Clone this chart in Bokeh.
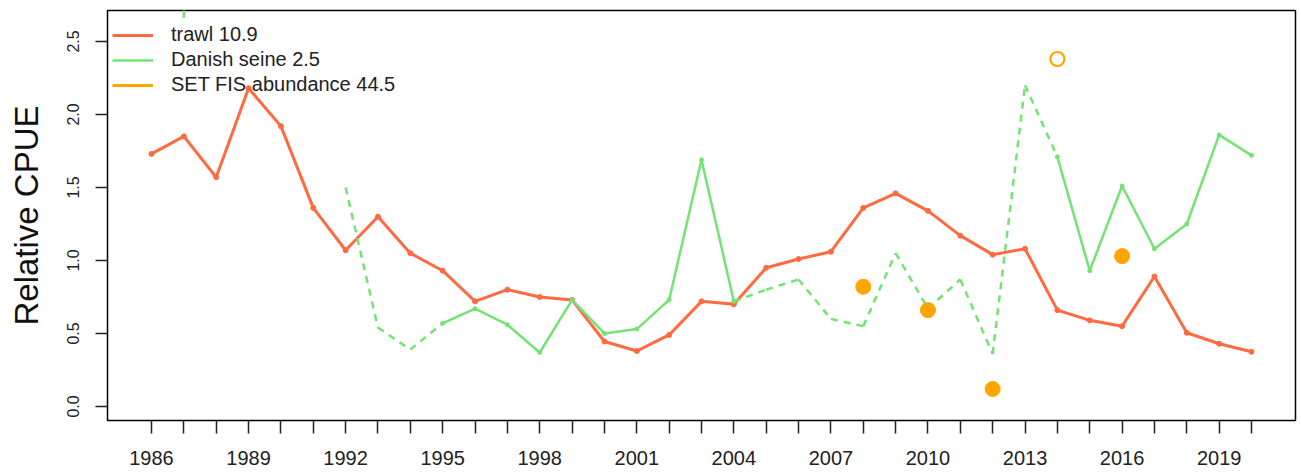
import math
from bokeh.plotting import figure
from bokeh.models import (FixedTicker, Range1d, Legend, LegendItem)
from bokeh.embed import file_html
from bokeh.resources import INLINE

# ---------------- data ----------------
trawl_years = list(range(1986, 2021))
trawl_cpue = [1.73, 1.85, 1.57, 2.18, 1.92, 1.36, 1.07, 1.30, 1.05, 0.93,
              0.72, 0.80, 0.75, 0.73, 0.445, 0.38, 0.49, 0.72, 0.70, 0.95,
              1.01, 1.06, 1.36, 1.46, 1.34, 1.17, 1.04, 1.08, 0.66, 0.59,
              0.55, 0.89, 0.505, 0.43, 0.375]

seine_years = list(range(1992, 2021))
seine_cpue = [1.50, 0.54, 0.39, 0.57, 0.67, 0.56, 0.37, 0.73, 0.50, 0.53,
              0.73, 1.69, 0.72, 0.80, 0.87, 0.60, 0.55, 1.05, 0.67, 0.87,
              0.36, 2.20, 1.71, 0.93, 1.51, 1.08, 1.25, 1.86, 1.72]
seine_observed = [False, False, False, True, True, True, True, True, True, True,
                  True, True, True, False, False, False, False, False, False, False,
                  False, False, True, True, True, True, True, True, True]
# short off-scale fragment of the Danish seine series near 1987
seine_1987_x = [1987, 1987]
seine_1987_y = [2.75, 2.66]

fis_years = [2008, 2010, 2012, 2014, 2016]
fis_abund = [0.82, 0.66, 0.12, 2.38, 1.03]
fis_filled = [True, True, True, False, True]

legend_labels = ["trawl 10.9", "Danish seine 2.5", "SET FIS abundance 44.5"]

x_tick_years = list(range(1986, 2021))
x_label_years = list(range(1986, 2021, 3))
y_ticks = [0.0, 0.5, 1.0, 1.5, 2.0, 2.5]

# ---------------- style ----------------
TRAWL = "#FF6A40"
SEINE = "#74E374"
FIS = "#FFA500"
FONT = "Liberation Sans"

p = figure(width=1301, height=475, output_backend="svg", toolbar_location=None,
           x_range=Range1d(1984.64, 2021.36), y_range=Range1d(-0.0959, 2.712),
           min_border_left=107, min_border_right=6, min_border_top=10,
           min_border_bottom=55)
p.background_fill_color = "white"
p.border_fill_color = "white"
p.outline_line_color = "black"
p.outline_line_width = 1.5
p.xgrid.visible = False
p.ygrid.visible = False

# trawl
tr = p.line(trawl_years, trawl_cpue, line_color=TRAWL, line_width=3)
p.scatter(trawl_years, trawl_cpue, size=5, color=TRAWL)

# Danish seine: solid between observed years, dashed otherwise
solid_xs, solid_ys, dash_xs, dash_ys = [], [], [], []
for i in range(len(seine_years) - 1):
    seg_x = [seine_years[i], seine_years[i + 1]]
    seg_y = [seine_cpue[i], seine_cpue[i + 1]]
    if seine_observed[i] and seine_observed[i + 1]:
        solid_xs.append(seg_x); solid_ys.append(seg_y)
    else:
        dash_xs.append(seg_x); dash_ys.append(seg_y)
p.multi_line(dash_xs, dash_ys, line_color=SEINE, line_width=2.5, line_dash="7 6")
sr = p.multi_line(solid_xs, solid_ys, line_color=SEINE, line_width=2.5)
obs_x = [x for x, o in zip(seine_years, seine_observed) if o]
obs_y = [y for y, o in zip(seine_cpue, seine_observed) if o]
p.scatter(obs_x, obs_y, size=4, color=SEINE)
p.line(seine_1987_x, seine_1987_y, line_color=SEINE, line_width=2.5)

# SET FIS abundance
fx = [x for x, f in zip(fis_years, fis_filled) if f]
fy = [y for y, f in zip(fis_abund, fis_filled) if f]
ox = [x for x, f in zip(fis_years, fis_filled) if not f]
oy = [y for y, f in zip(fis_abund, fis_filled) if not f]
p.scatter(fx, fy, size=15, color=FIS)
p.scatter(ox, oy, size=14, fill_color=None, line_color=FIS, line_width=2.2)
# legend-only line renderer for the survey (nothing drawn in the plot)
fr = p.line(fis_years, [float("nan")] * len(fis_years), line_color=FIS, line_width=3)

# legend
legend = Legend(items=[LegendItem(label=legend_labels[0], renderers=[tr]),
                       LegendItem(label=legend_labels[1], renderers=[sr]),
                       LegendItem(label=legend_labels[2], renderers=[fr])],
                location=(5, 324), padding=0, margin=0, spacing=2,
                glyph_width=41, glyph_height=20, label_height=20,
                label_standoff=18, border_line_color=None,
                background_fill_alpha=0,
                label_text_font=FONT, label_text_font_size="20px",
                label_text_color="#222222")
p.add_layout(legend, "center")

# axes
p.xaxis.ticker = FixedTicker(ticks=x_tick_years)
p.xaxis.major_label_overrides = {y: (str(y) if y in x_label_years else "")
                                 for y in x_tick_years}
p.xaxis.minor_tick_line_color = None
p.xaxis.axis_line_color = None
p.xaxis.major_tick_out = 13
p.xaxis.major_tick_in = 0
p.xaxis.major_tick_line_width = 1.5
p.xaxis.major_tick_line_color = "#222222"
p.xaxis.major_label_standoff = 17
p.xaxis.major_label_text_font = FONT
p.xaxis.major_label_text_font_size = "20px"
p.xaxis.major_label_text_color = "#222222"

p.yaxis.ticker = FixedTicker(ticks=y_ticks)
p.yaxis.major_label_overrides = {t: f"{t:.1f}" for t in y_ticks}
p.yaxis.minor_tick_line_color = None
p.yaxis.axis_line_color = None
p.yaxis.major_tick_out = 12
p.yaxis.major_tick_in = 0
p.yaxis.major_tick_line_width = 1.5
p.yaxis.major_tick_line_color = "#222222"
p.yaxis.major_label_orientation = "vertical"
p.yaxis.major_label_standoff = 16
p.yaxis.major_label_text_font = FONT
p.yaxis.major_label_text_font_size = "16px"
p.yaxis.major_label_text_color = "#222222"
p.yaxis.axis_label = "Relative CPUE"
p.yaxis.axis_label_text_font = FONT
p.yaxis.axis_label_text_font_size = "33px"
p.yaxis.axis_label_text_font_style = "normal"
p.yaxis.axis_label_text_color = "#111111"
p.yaxis.axis_label_standoff = 20

open("out.html", "w").write(file_html(p, INLINE))
